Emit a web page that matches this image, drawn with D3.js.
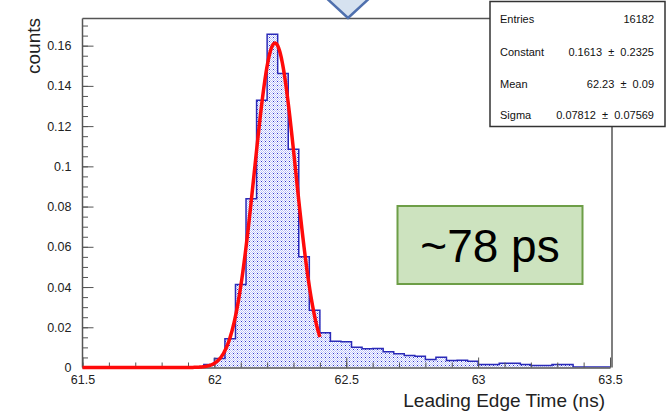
<!DOCTYPE html>
<html>
<head>
<meta charset="utf-8">
<script src="https://cdn.jsdelivr.net/npm/d3@7/dist/d3.min.js"></script>
<style>
  html, body { margin: 0; padding: 0; background: #fff; }
  svg { display: block; font-family: "Liberation Sans", Arial, Helvetica, sans-serif; }
</style>
</head>
<body>
<svg id="chart" width="667" height="412"></svg>
<script>
// Histogram of leading edge times (ns), 0.04 ns bins, normalised counts
const binStart = 61.96;
const binWidth = 0.04;
const binCounts = [
  0.0015, 0.0045, 0.0143, 0.0413, 0.0839, 0.1328, 0.1657, 0.1461,
  0.1085, 0.0551, 0.0284, 0.0173, 0.0131, 0.0128, 0.0101, 0.0093,
  0.0095, 0.0078, 0.0068, 0.0060, 0.0056, 0.0040, 0.0051, 0.0035,
  0.0036, 0.0031, 0.0015, 0.0015, 0.0021, 0.0021, 0.0015, 0.0010,
  0.0010, 0.0015, 0.0015, 0.0003, 0.0003, 0.0003, 0.0003
];

// Gaussian fit result and fit range
const fitConstant = 0.1613;
const fitMean = 62.23;
const fitSigma = 0.07812;
const fitRange = [61.5, 62.4];

// Axis ticks
const xMajorTicks = [61.5, 62, 62.5, 63, 63.5];
const xTickLabels = ["61.5", "62", "62.5", "63", "63.5"];
const xMinorTicks = d3.range(0, 21).map(i => 61.5 + i * 0.1);
const yMajorTicks = [0, 0.02, 0.04, 0.06, 0.08, 0.1, 0.12, 0.14, 0.16];
const yTickLabels = ["0", "0.02", "0.04", "0.06", "0.08", "0.1", "0.12", "0.14", "0.16"];
const yMinorTicks = d3.range(0, 35).map(i => i * 0.005);

// Statistics box rows
const statLabels = ["Entries", "Constant", "Mean", "Sigma"];
const statValues = ["16182", "0.1613", "62.23", "0.07812"];
const statErrors = [null, "0.2325", "0.09", "0.07569"];

const xTitle = "Leading Edge Time (ns)";
const yTitle = "counts";
const noteText = "~78 ps";

const svg = d3.select("#chart");

const x = d3.scaleLinear().domain([61.5, 63.5]).range([82.5, 610]);
const y = d3.scaleLinear().domain([0, 0.1735]).range([367.5, 18.5]);

const defs = svg.append("defs");
defs.append("clipPath").attr("id", "plotClip")
  .append("rect")
  .attr("x", x(61.5)).attr("y", y(0.1735))
  .attr("width", x(63.5) - x(61.5)).attr("height", y(0) - y(0.1735));

// dotted fill used for the histogram body
const pat = defs.append("pattern").attr("id", "dots")
  .attr("patternUnits", "userSpaceOnUse")
  .attr("width", 4).attr("height", 4);
pat.append("rect").attr("width", 4).attr("height", 4).attr("fill", "#ffffff");
[[0,0],[2,0],[1,1],[3,1],[0,2],[2,2],[1,3],[3,3]].forEach(([px, py]) => {
  pat.append("rect").attr("x", px).attr("y", py).attr("width", 1).attr("height", 1)
    .attr("fill", "#bcc3f9").attr("shape-rendering", "crispEdges");
});
pat.append("rect").attr("x", 1).attr("y", 1).attr("width", 1).attr("height", 1)
  .attr("fill", "#2a2fd0").attr("shape-rendering", "crispEdges");

const bins = binCounts.map((v, i) => ({
  lo: binStart + i * binWidth,
  hi: binStart + (i + 1) * binWidth,
  v
}));

const plot = svg.append("g").attr("clip-path", "url(#plotClip)");

plot.selectAll("rect.bin").data(bins).enter().append("rect")
  .attr("class", "bin")
  .attr("x", d => x(d.lo))
  .attr("y", d => y(d.v))
  .attr("width", d => x(d.hi) - x(d.lo) + 0.3)
  .attr("height", d => y(0) - y(d.v))
  .attr("fill", "url(#dots)");

// step outline of the histogram
const stepPts = [[bins[0].lo, 0]];
bins.forEach(d => { stepPts.push([d.lo, d.v]); stepPts.push([d.hi, d.v]); });
stepPts.push([bins[bins.length - 1].hi, 0]);
plot.append("path")
  .attr("d", d3.line().x(d => x(d[0])).y(d => y(d[1]))(stepPts))
  .attr("fill", "none")
  .attr("stroke", "#2a2ab8")
  .attr("stroke-width", 1.5);

// axes
const axisColor = "#555";
const labelColor = "#222";

const gx = svg.append("g").attr("transform", `translate(0,${y(0)})`);
gx.call(d3.axisBottom(x).tickValues(xMinorTicks).tickSize(-5).tickSizeOuter(0).tickFormat(""));
gx.call(g => g.selectAll("path.domain").remove());
const gx2 = svg.append("g").attr("transform", `translate(0,${y(0)})`);
gx2.call(d3.axisBottom(x).tickValues(xMajorTicks).tickSize(-10).tickSizeOuter(0)
  .tickPadding(8).tickFormat((d, i) => xTickLabels[i]));

const gy = svg.append("g").attr("transform", `translate(${x(61.5)},0)`);
gy.call(d3.axisLeft(y).tickValues(yMinorTicks).tickSize(-5.5).tickSizeOuter(0).tickFormat(""));
gy.call(g => g.selectAll("path.domain").remove());
const gy2 = svg.append("g").attr("transform", `translate(${x(61.5)},0)`);
gy2.call(d3.axisLeft(y).tickValues(yMajorTicks).tickSize(-11).tickSizeOuter(0)
  .tickPadding(11).tickFormat((d, i) => yTickLabels[i]));

[gx, gx2, gy, gy2].forEach(g => {
  g.selectAll("line").attr("stroke", axisColor).attr("stroke-width", 1);
  g.selectAll("path.domain").attr("stroke", axisColor).attr("stroke-width", 1.5);
  g.selectAll("text").attr("fill", labelColor).attr("font-size", 12.5)
    .attr("font-family", "\"Liberation Sans\", Arial, sans-serif");
});
gy2.select("path.domain").attr("d", `M0,${y(0)}V${y(0.1735)}`);

// frame top and right edges
svg.append("path")
  .attr("d", `M${x(61.5)},${y(0.1735)}H612V${y(0)}`)
  .attr("fill", "none").attr("stroke", axisColor).attr("stroke-width", 1.5);

// Gaussian fit curve over the fit range
const fitPts = d3.range(fitRange[0], fitRange[1] + 1e-9, 0.002).map(t =>
  [t, fitConstant * Math.exp(-0.5 * Math.pow((t - fitMean) / fitSigma, 2))]);
svg.append("path")
  .attr("d", d3.line().x(d => x(d[0])).y(d => y(d[1]))(fitPts))
  .attr("fill", "none")
  .attr("stroke", "#ff0a0a")
  .attr("stroke-width", 3.5)
  .attr("stroke-linejoin", "round");

// axis titles
svg.append("text")
  .attr("x", 605).attr("y", 407)
  .attr("text-anchor", "end")
  .attr("font-size", 19)
  .attr("fill", labelColor)
  .text(xTitle);
svg.append("text")
  .attr("transform", "translate(40,18) rotate(-90)")
  .attr("text-anchor", "end")
  .attr("font-size", 19)
  .attr("fill", labelColor)
  .text(yTitle);

// statistics box
const box = svg.append("g");
box.append("rect")
  .attr("x", 490).attr("y", 1.5).attr("width", 175).attr("height", 125)
  .attr("fill", "#fff").attr("stroke", "#333").attr("stroke-width", 1.5);
const rowY = [23, 55.5, 87.5, 119];
statLabels.forEach((lab, i) => {
  box.append("text").attr("x", 500).attr("y", rowY[i])
    .attr("font-size", 11).attr("fill", "#111").text(lab);
  const val = statErrors[i] === null ? statValues[i]
    : statValues[i] + "\u00a0\u00a0\u00b1\u00a0\u00a0" + statErrors[i];
  box.append("text").attr("x", 654).attr("y", rowY[i])
    .attr("text-anchor", "end")
    .attr("font-size", 11).attr("fill", "#111").text(val);
});

// pointer shape at the top edge
svg.append("path")
  .attr("d", "M322,-6L374,-6L348,18Z")
  .attr("fill", "#d6e2f0")
  .attr("stroke", "#4f70ae")
  .attr("stroke-width", 2.5)
  .attr("stroke-linejoin", "miter");

// resolution note
svg.append("rect")
  .attr("x", 397.5).attr("y", 206).attr("width", 185).attr("height", 78)
  .attr("fill", "#cde3bf").attr("stroke", "#6d9e47").attr("stroke-width", 2);
svg.append("text")
  .attr("x", 490).attr("y", 262)
  .attr("text-anchor", "middle")
  .attr("font-size", 46)
  .attr("fill", "#000")
  .text(noteText);
</script>
</body>
</html>
